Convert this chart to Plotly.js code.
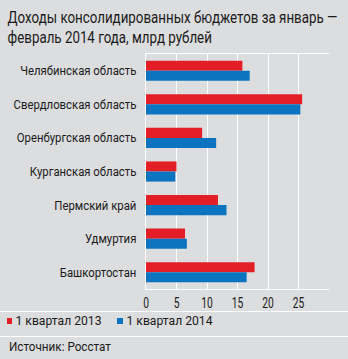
<!DOCTYPE html>
<html><head><meta charset="utf-8">
<script src="https://cdn.plot.ly/plotly-3.0.1.min.js"></script>
<style>html,body{margin:0;padding:0;background:#dcdddf;}</style>
</head><body>
<div id="chart" style="width:348px;height:359px;"></div>
<script>
const regions = ["Челябинская область","Свердловская область","Оренбургская область","Курганская область","Пермский край","Удмуртия","Башкортостан"];
const q2013 = [15.8, 25.6, 9.2, 5.0, 11.8, 6.4, 17.8];
const q2014 = [17.0, 25.3, 11.5, 4.8, 13.2, 6.7, 16.5];
const xTicks = [0, 5, 10, 15, 20, 25];
const seriesNames = ['1 квартал 2013', '1 квартал 2014'];
const seriesColors = ['#e41e26', '#0b74c1'];
const titleLines = ['Доходы консолидированных бюджетов за январь —', 'февраль 2014 года, млрд рублей'];
const sourceText = 'Источник: Росстат';
const FONT = 'Roboto, "Open Sans", sans-serif';
const INK = '#1a1a1a';

const traces = [
  {type:'bar', orientation:'h', name:seriesNames[0], y:regions, x:q2013, marker:{color:seriesColors[0]}, hoverinfo:'none'},
  {type:'bar', orientation:'h', name:seriesNames[1], y:regions, x:q2014, marker:{color:seriesColors[1]}, hoverinfo:'none'}
];
const PW = 183, PH = 235, L = 146, B = 289;
function py(y){ return (B - y)/PH; }
function px(x){ return (x - L)/PW; }
const layout = {
  width:348, height:359,
  paper_bgcolor:'#dcdddf', plot_bgcolor:'#dcdddf',
  margin:{l:146, r:19, t:54, b:70},
  barmode:'group', bargap:0.4, bargroupgap:0,
  showlegend:false,
  font:{family:FONT, color:INK, size:13},
  xaxis:{range:[0,30], tickvals:xTicks, ticktext:xTicks.map(String), showgrid:true, gridcolor:'#ffffff', gridwidth:1,
    zeroline:false, showline:true, mirror:true, linecolor:'#ffffff', linewidth:1, ticks:'',
    tickfont:{family:FONT, size:15, color:INK}, fixedrange:true},
  yaxis:{autorange:'reversed', showgrid:false, zeroline:false, showline:true, linecolor:'#ffffff', linewidth:1, ticks:'', ticklabelstandoff:6,
    tickfont:{family:FONT, size:13, color:INK}, fixedrange:true},
  shapes:[
    {type:'line', xref:'paper', yref:'paper', x0:px(0), x1:px(348), y0:py(311.5), y1:py(311.5), line:{color:'#ffffff', width:1}},
    {type:'line', xref:'paper', yref:'paper', x0:px(0), x1:px(348), y0:py(336.5), y1:py(336.5), line:{color:'#ffffff', width:1}},
    {type:'rect', xref:'paper', yref:'paper', x0:px(7), x1:px(12), y0:py(324), y1:py(318), line:{width:0}, fillcolor:seriesColors[0]},
    {type:'rect', xref:'paper', yref:'paper', x0:px(117), x1:px(123), y0:py(324), y1:py(318), line:{width:0}, fillcolor:seriesColors[1]}
  ],
  annotations:[
    {name:'t1', xref:'paper', yref:'paper', x:px(6), y:py(17.5), xanchor:'left', yanchor:'middle', showarrow:false,
     text:titleLines[0], font:{family:FONT, size:16, color:INK}},
    {name:'t2', xref:'paper', yref:'paper', x:px(6), y:py(38), xanchor:'left', yanchor:'middle', showarrow:false,
     text:titleLines[1], font:{family:FONT, size:16, color:INK}},
    {name:'l1', xref:'paper', yref:'paper', x:px(13), y:py(320.5), xanchor:'left', yanchor:'middle', showarrow:false,
     text:seriesNames[0], font:{family:FONT, size:13, color:INK}},
    {name:'l2', xref:'paper', yref:'paper', x:px(124), y:py(320.5), xanchor:'left', yanchor:'middle', showarrow:false,
     text:seriesNames[1], font:{family:FONT, size:13, color:INK}},
    {name:'src', xref:'paper', yref:'paper', x:px(7), y:py(346), xanchor:'left', yanchor:'middle', showarrow:false,
     text:sourceText, font:{family:FONT, size:13, color:INK}}
  ]
};

// Condense text horizontally (reference uses a condensed typeface)
function squeeze(el, f, anchor, targetLeft){
  const bb = el.getBBox();
  const r = el.getBoundingClientRect();
  const ax = anchor === 'end' ? bb.x + bb.width : (anchor === 'middle' ? bb.x + bb.width/2 : bb.x);
  const dx = (targetLeft === undefined) ? 0 : targetLeft - r.left;
  const t = el.getAttribute('transform') || '';
  el.setAttribute('transform', t + ' translate(' + (dx + ax) + ',0) scale(' + f + ',1) translate(' + (-ax) + ',0)');
}
Plotly.newPlot('chart', traces, layout, {staticPlot:true, displayModeBar:false}).then(function(gd){
  // y tick labels: "Свердловская область" spans 123px in the reference
  const yt = Array.from(gd.querySelectorAll('.ytick text'));
  const ref = yt.find(e => e.textContent === 'Свердловская область') || yt[0];
  const fy = 123 / ref.getBoundingClientRect().width;
  yt.forEach(e => squeeze(e, fy, 'end'));
  // x tick labels: "10" spans ~11.5px
  const xt = Array.from(gd.querySelectorAll('.xtick text'));
  const x10 = xt.find(e => e.textContent === '10') || xt[0];
  const fx = 11.5 / x10.getBoundingClientRect().width;
  xt.forEach(e => squeeze(e, fx, 'middle'));
  // annotations
  const ann = Array.from(gd.querySelectorAll('.annotation-text'));
  const byText = s => ann.find(e => e.textContent === s);
  const t1 = byText(titleLines[0]), t2 = byText(titleLines[1]);
  const ft = 330 / t1.getBoundingClientRect().width;
  squeeze(t1, ft, 'start', 7.5);
  squeeze(t2, ft, 'start', 7.5);
  const l1 = byText(seriesNames[0]), l2 = byText(seriesNames[1]);
  const fl = 86 / l1.getBoundingClientRect().width;
  squeeze(l1, fl, 'start', 15.5);
  squeeze(l2, fl, 'start', 126.5);
  const s = byText(sourceText);
  squeeze(s, 102 / s.getBoundingClientRect().width, 'start', 9);
});
</script>
</body></html>
